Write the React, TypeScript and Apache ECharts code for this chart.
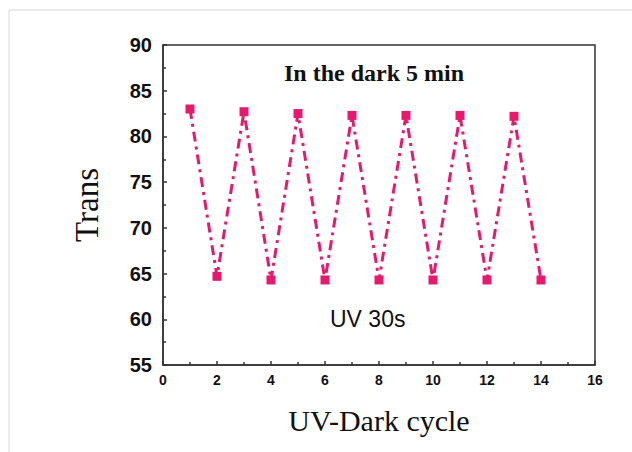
import React, { useEffect, useRef } from "react";
import * as echarts from "echarts";

const cycles = [1, 2, 3, 4, 5, 6, 7, 8, 9, 10, 11, 12, 13, 14];
const trans = [83.0, 64.7, 82.7, 64.3, 82.5, 64.3, 82.3, 64.3, 82.3, 64.3, 82.3, 64.3, 82.2, 64.3];
const annotationTop = "In the dark 5 min";
const annotationBottom = "UV 30s";
const xTitle = "UV-Dark cycle";
const yTitle = "Trans";

export default function App() {
  const ref = useRef<HTMLDivElement>(null);
  useEffect(() => {
    const chart = echarts.init(ref.current!, null, { renderer: "svg" });
    const data = cycles.map((c, i) => [c, trans[i]]);
    chart.setOption({
      animation: false,
      backgroundColor: "#fff",
      grid: {
        left: 163,
        top: 45,
        right: 37,
        bottom: 87,
        show: true,
        borderColor: "#333",
        borderWidth: 1.5,
        backgroundColor: "transparent",
      },
      xAxis: {
        type: "value",
        min: 0,
        max: 16,
        interval: 2,
        name: xTitle,
        nameLocation: "middle",
        nameGap: 40,
        nameTextStyle: { fontFamily: "Liberation Serif", fontSize: 30, color: "#111" },
        axisLine: { show: true, lineStyle: { color: "#333", width: 1.5 } },
        axisTick: { show: true, inside: true, length: 4, lineStyle: { color: "#333", width: 1.5 } },
        minorTick: { show: true, splitNumber: 2, length: 3, lineStyle: { color: "#333", width: 1.5 } },
        axisLabel: { fontFamily: "Liberation Sans", fontWeight: "bold", fontSize: 14, color: "#111", margin: 8 },
        splitLine: { show: false },
      },
      yAxis: {
        type: "value",
        min: 55,
        max: 90,
        interval: 5,
        name: yTitle,
        nameLocation: "middle",
        nameGap: 60,
        nameTextStyle: { fontFamily: "Liberation Serif", fontSize: 33, color: "#111" },
        axisLine: { show: true, lineStyle: { color: "#333", width: 1.5 } },
        axisTick: { show: true, inside: true, length: 4, lineStyle: { color: "#333", width: 1.5 } },
        minorTick: { show: true, splitNumber: 2, length: 3, lineStyle: { color: "#333", width: 1.5 } },
        axisLabel: { fontFamily: "Liberation Sans", fontWeight: "bold", fontSize: 20, color: "#111", margin: 11 },
        splitLine: { show: false },
      },
      series: [
        {
          type: "line",
          data,
          symbol: "rect",
          symbolSize: 9,
          itemStyle: { color: "#e8186c" },
          lineStyle: { color: "#e8186c", width: 3, type: [10, 5, 3, 5] },
        },
      ],
      graphic: [
        {
          type: "polyline",
          shape: { points: [[9, 452], [9, 10], [632, 10]] },
          style: { stroke: "#d8d8d8", lineWidth: 1, fill: "none" },
        },
        {
          type: "text",
          left: 284,
          top: 61,
          style: {
            text: annotationTop,
            font: "bold 24px 'Liberation Serif'",
            fill: "#111",
          },
        },
        {
          type: "text",
          left: 330,
          top: 307,
          style: {
            text: annotationBottom,
            font: "23px 'Liberation Sans'",
            fill: "#111",
          },
        },
      ],
    });
    return () => chart.dispose();
  }, []);
  return <div ref={ref} style={{ width: 632, height: 452, position: "absolute", left: 0, top: 0 }} />;
}
